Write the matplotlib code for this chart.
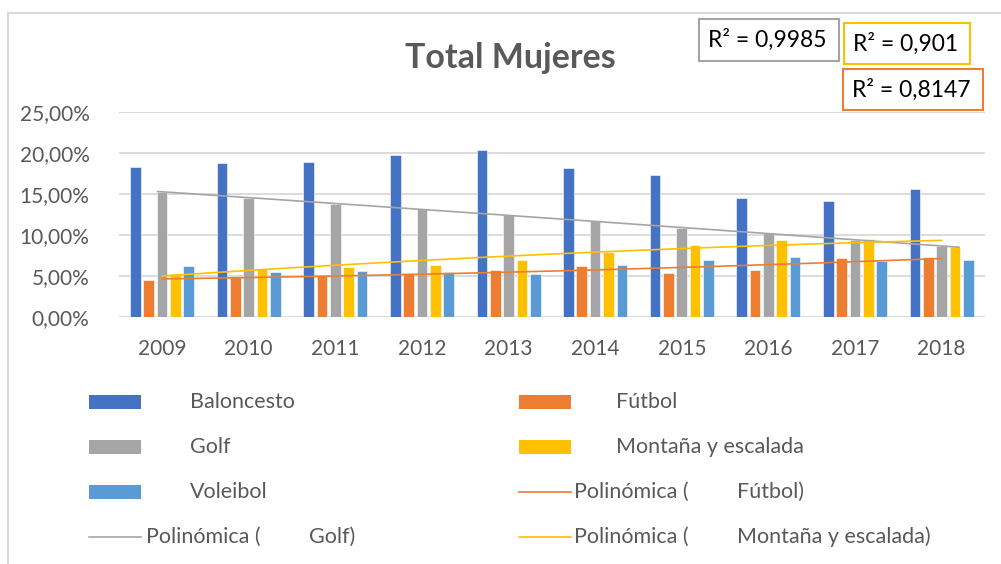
import numpy as np
import matplotlib
matplotlib.use('Agg')
import matplotlib.pyplot as plt
from matplotlib.patches import Rectangle
from matplotlib.lines import Line2D

matplotlib.rcParams['font.family'] = ['Lato', 'DejaVu Sans']

years = ['2009', '2010', '2011', '2012', '2013', '2014', '2015', '2016', '2017', '2018']
baloncesto = [18.3, 18.8, 18.9, 19.8, 20.4, 18.2, 17.3, 14.55, 14.1, 15.57]
futbol = [4.47, 4.84, 5.0, 5.4, 5.7, 6.26, 5.36, 5.73, 7.15, 7.3]
golf = [15.3, 14.5, 13.8, 13.2, 12.4, 11.7, 10.8, 10.24, 9.35, 8.7]
montana = [5.3, 5.85, 6.05, 6.4, 6.95, 7.9, 8.78, 9.43, 9.47, 8.57]
voleibol = [6.2, 5.5, 5.6, 5.5, 5.2, 6.4, 6.95, 7.28, 6.8, 6.95]

series = ['Baloncesto', 'Fútbol', 'Golf', 'Montaña y escalada', 'Voleibol']
colors = ['#4472C4', '#ED7D31', '#A5A5A5', '#FFC000', '#5B9BD5']
r2_labels = ['R² = 0,9985', 'R² = 0,901', 'R² = 0,8147']

W, H = 1001, 564
TXT = '#595959'
GRID = '#D9D9D9'


def fx(px):
    return px / W


def fy(py):
    return 1 - py / H


fig = plt.figure(figsize=(W / 100, H / 100), dpi=100)
ax = fig.add_axes([fx(118.7), fy(317), fx(985) - fx(118.7), fy(112) - fy(317)])

x = np.arange(len(years))
step = 0.154
width = 0.123
for i, (vals, c) in enumerate(zip([baloncesto, futbol, golf, montana, voleibol], colors)):
    ax.bar(x + (i - 2) * step, vals, width, color=c, edgecolor='white', linewidth=0.4, zorder=2)

# polynomial (order 2) trendlines
def trend(vals, x0, x1):
    p = np.polyfit(x, vals, 2)
    xs = np.linspace(x0, x1, 100)
    return xs, np.polyval(p, xs)

xs, ys = trend(golf, -0.05, 9.2)
ax.plot(xs, ys, color='#A5A5A5', lw=1.2, zorder=3)
xs, ys = trend(futbol, 0, 9)
ax.plot(xs, ys, color='#ED7D31', lw=1.2, zorder=3)
xs, ys = trend(montana, 0, 9)
ax.plot(xs, ys, color='#FFC000', lw=1.2, zorder=3)

ax.set_xlim(-0.5, 9.5)
ax.set_ylim(0, 25)
ax.set_yticks(np.arange(0, 26, 5))
ax.yaxis.set_major_formatter(matplotlib.ticker.FuncFormatter(lambda v, p: ('%.2f%%' % v).replace('.', ',')))
ax.set_xticks(x)
ax.set_xticklabels(years)
ax.grid(axis='y', color=GRID, lw=1.3, zorder=0)
for s in ax.spines.values():
    s.set_visible(False)
ax.tick_params(length=0, labelsize=15, colors=TXT)
ax.tick_params(axis='x', pad=16)
ax.tick_params(axis='y', pad=21)
ax.set_facecolor('none')

# chart border (left and top)
fig.add_artist(Line2D([fx(8), fx(8)], [fy(13), 0], color=GRID, lw=1.5))
fig.add_artist(Line2D([fx(8), 1], [fy(13), fy(13)], color=GRID, lw=1.5))

fig.text(fx(510), fy(58), 'Total Mujeres', ha='center', va='center',
         fontsize=24.5, fontweight='bold', color=TXT)

# R² boxes
boxes = [(699, 19, 140, 42, '#A5A5A5'), (844, 23, 126, 41, '#FFC000'), (843, 69, 140, 41, '#ED7D31')]
for (bx, by, bw, bh, ec), lab in zip(boxes, r2_labels):
    fig.add_artist(Rectangle((fx(bx), fy(by + bh)), bw / W, bh / H, transform=fig.transFigure,
                             facecolor='white', edgecolor=ec, lw=1.5))
    fig.text(fx(bx + 9), fy(by + bh / 2), lab, ha='left', va='center', fontsize=16.5, color='#000000')

# legend
def patch(px, py, c):
    fig.add_artist(Rectangle((fx(px), fy(py + 7)), 52 / W, 14 / H, transform=fig.transFigure,
                             facecolor=c, edgecolor='none'))

def line(px, py, c):
    fig.add_artist(Line2D([fx(px), fx(px + 52)], [fy(py), fy(py)], color=c, lw=1.2))

def label(px, py, s):
    fig.text(fx(px), fy(py), s, ha='left', va='center', fontsize=15.5, color=TXT)

patch(89, 402, colors[0]); label(190, 402, 'Baloncesto')
patch(519, 402, colors[1]); label(616, 402, 'Fútbol')
patch(89, 447, colors[2]); label(190, 447, 'Golf')
patch(519, 447, colors[3]); label(616, 447, 'Montaña y escalada')
patch(89, 492, colors[4]); label(190, 492, 'Voleibol')
line(519, 492, colors[1]); label(574, 492, 'Polinómica ('); label(737, 492, 'Fútbol)')
line(89, 537, colors[2]); label(146, 537, 'Polinómica ('); label(309, 537, 'Golf)')
line(519, 537, colors[3]); label(574, 537, 'Polinómica ('); label(737, 537, 'Montaña y escalada)')

plt.savefig('out.png', dpi=100)
